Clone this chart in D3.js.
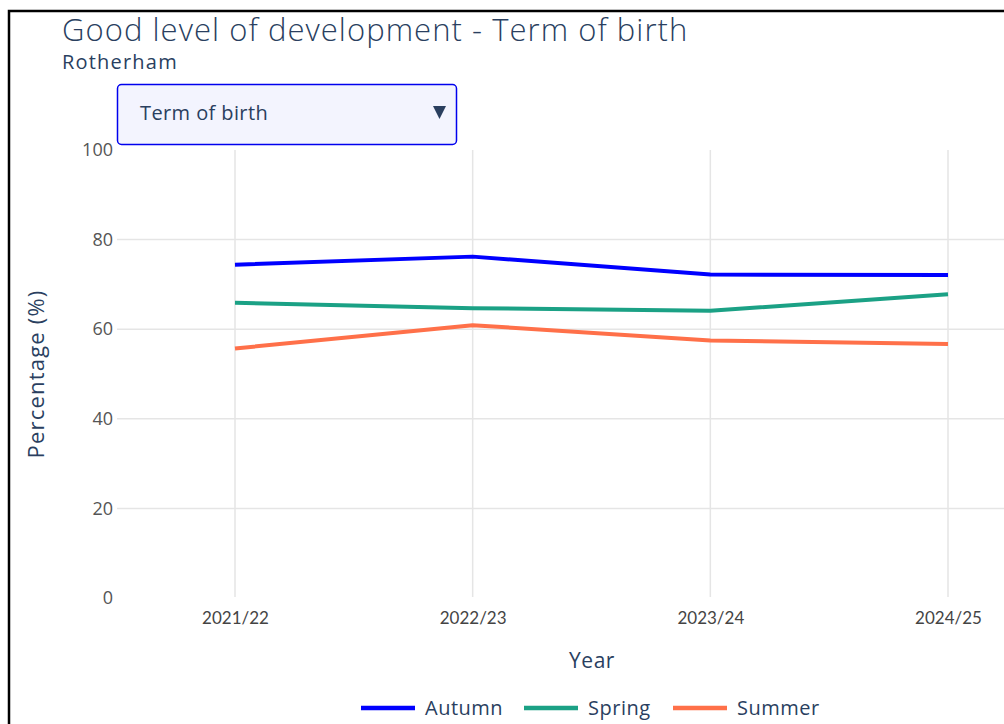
<!DOCTYPE html>
<html>
<head>
<meta charset="utf-8">
<script src="https://cdn.jsdelivr.net/npm/d3@7"></script>
<style>
  body { margin: 0; background: #fff; }
  svg { display: block; font-family: "Open Sans", "Noto Sans", sans-serif; }
</style>
</head>
<body>
<script>
// chart data
const years = ["2021/22", "2022/23", "2023/24", "2024/25"];
const seriesNames = ["Autumn", "Spring", "Summer"];
const autumn = [74.4, 76.2, 72.2, 72.1];
const spring = [65.9, 64.7, 64.1, 67.8];
const summer = [55.7, 60.9, 57.5, 56.7];
const seriesColors = ["#0000ff", "#1ba185", "#ff7049"];
const yTicks = [0, 20, 40, 60, 80, 100];

const W = 1004, H = 724;
const textCol = "#2a3f5f";

const svg = d3.select("body").append("svg")
    .attr("width", W)
    .attr("height", H);

svg.append("rect").attr("width", W).attr("height", H).attr("fill", "#fff");

// outer frame, cropped at right and bottom
svg.append("rect")
    .attr("x", 9).attr("y", 11)
    .attr("width", W + 20).attr("height", H + 20)
    .attr("fill", "none")
    .attr("stroke", "#000")
    .attr("stroke-width", 2.5);

const x = d3.scalePoint()
    .domain(years)
    .range([235, 948]);

const y = d3.scaleLinear()
    .domain([0, 100])
    .range([598, 150]);

const plotLeft = 117, plotRight = W;

//gridlines
svg.append("g").attr("class", "ygrid")
    .selectAll("line")
    .data(yTicks.filter(d => d > 0 && d < 100))
    .enter().append("line")
    .attr("x1", plotLeft).attr("x2", plotRight)
    .attr("y1", d => y(d)).attr("y2", d => y(d))
    .attr("stroke", "#e5e5e5")
    .attr("stroke-width", 1.5);

svg.append("g").attr("class", "xgrid")
    .selectAll("line")
    .data(years)
    .enter().append("line")
    .attr("x1", d => x(d)).attr("x2", d => x(d))
    .attr("y1", y(100)).attr("y2", y(0) - 1)
    .attr("stroke", "#e5e5e5")
    .attr("stroke-width", 1.5);

//axes
const yAxis = svg.append("g")
    .attr("transform", "translate(" + plotLeft + ",0)")
    .call(d3.axisLeft(y).tickValues(yTicks).tickSize(0).tickPadding(4));
yAxis.select(".domain").remove();
yAxis.selectAll("text")
    .attr("fill", "#555")
    .attr("font-size", 18)
    .attr("font-family", "Open Sans, sans-serif");

const xAxis = svg.append("g")
    .attr("transform", "translate(0," + (y(0) + 8) + ")")
    .call(d3.axisBottom(x).tickSize(0).tickPadding(6));
xAxis.select(".domain").remove();
xAxis.selectAll("text")
    .attr("fill", "#444")
    .attr("font-size", 17)
    .attr("font-family", "Lato, sans-serif");

//lines
const allSeries = [autumn, spring, summer];
const line = d3.line()
    .x((d, i) => x(years[i]))
    .y(d => y(d));

svg.append("g").attr("class", "lines")
    .selectAll("path")
    .data(allSeries)
    .enter().append("path")
    .attr("d", d => line(d))
    .attr("fill", "none")
    .attr("stroke", (d, i) => seriesColors[i])
    .attr("stroke-width", 4)
    .attr("stroke-linejoin", "round");

//titles
svg.append("text")
    .attr("x", 62).attr("y", 41)
    .attr("fill", textCol)
    .attr("font-size", 31)
    .attr("font-weight", 300)
    .attr("letter-spacing", 1.05)
    .text("Good level of development - Term of birth");

svg.append("text")
    .attr("x", 62).attr("y", 69)
    .attr("fill", textCol)
    .attr("font-size", 20)
    .attr("letter-spacing", 1.2)
    .text("Rotherham");

svg.append("text")
    .attr("x", 592).attr("y", 668)
    .attr("text-anchor", "middle")
    .attr("fill", textCol)
    .attr("font-size", 21)
    .attr("letter-spacing", 0.5)
    .text("Year");

svg.append("text")
    .attr("transform", "translate(44,374) rotate(-90)")
    .attr("text-anchor", "middle")
    .attr("fill", textCol)
    .attr("font-size", 22)
    .attr("letter-spacing", 1.2)
    .text("Percentage (%)");

//dropdown
const dd = svg.append("g").attr("class", "dropdown");
dd.append("rect")
    .attr("x", 117.5).attr("y", 84.5)
    .attr("width", 339).attr("height", 60)
    .attr("rx", 4)
    .attr("fill", "#f3f4fe")
    .attr("stroke", "#0000ee")
    .attr("stroke-width", 1.5);
dd.append("text")
    .attr("x", 140).attr("y", 120)
    .attr("fill", textCol)
    .attr("font-size", 20)
    .attr("letter-spacing", 0.4)
    .text("Term of birth");
dd.append("path")
    .attr("d", "M433,106 L446,106 L439.5,119 Z")
    .attr("fill", textCol);

//legend
const legendX = [361, 524, 673];
const legend = svg.append("g").attr("class", "legend")
    .selectAll("g")
    .data(seriesNames)
    .enter().append("g")
    .attr("transform", (d, i) => "translate(" + legendX[i] + ",708)");
legend.append("line")
    .attr("x1", 0).attr("x2", 54)
    .attr("stroke", (d, i) => seriesColors[i])
    .attr("stroke-width", 4.5);
legend.append("text")
    .attr("x", 64).attr("y", 7)
    .attr("fill", textCol)
    .attr("font-size", 20)
    .attr("letter-spacing", 0.5)
    .text(d => d);
</script>
</body>
</html>
